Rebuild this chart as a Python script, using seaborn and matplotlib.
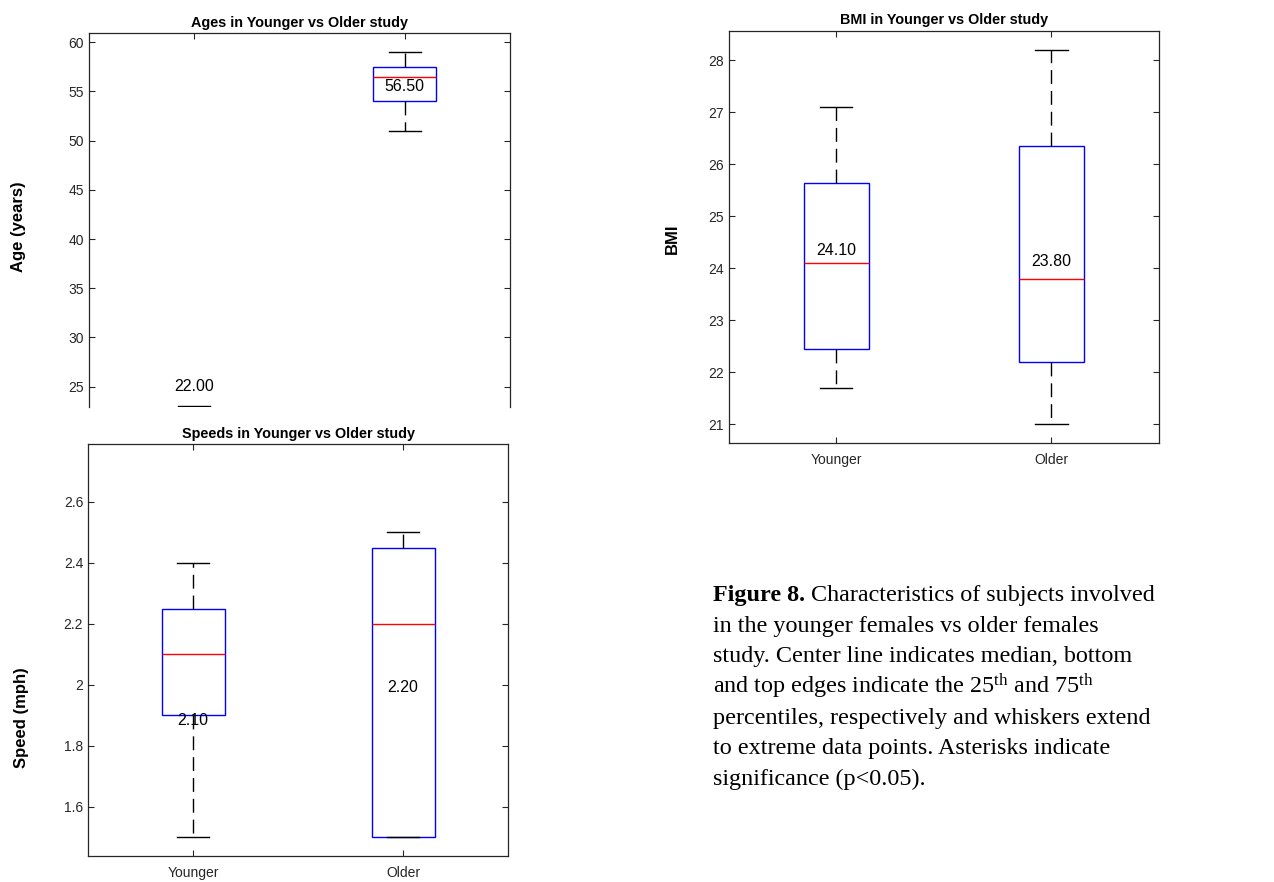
import numpy as np
import pandas as pd
import matplotlib
matplotlib.use("Agg")
import matplotlib.pyplot as plt
import seaborn as sns
from matplotlib import font_manager
from matplotlib.ticker import FuncFormatter

# ---- data: per-group values (min, 25th pct, median, 75th pct, max) ----
groups = ["Younger", "Older"]

age_younger = [20.0, 21.0, 22.0, 22.6, 23.0]
age_older = [51.0, 54.0, 56.5, 57.5, 59.0]

bmi_younger = [21.7, 22.45, 24.1, 25.65, 27.1]
bmi_older = [21.0, 22.2, 23.8, 26.35, 28.2]

speed_younger = [1.5, 1.9, 2.1, 2.25, 2.4]
speed_older = [1.5, 1.5, 2.2, 2.45, 2.5]

age_ticks = [25, 30, 35, 40, 45, 50, 55, 60]
bmi_ticks = [21, 22, 23, 24, 25, 26, 27, 28]
speed_ticks = [1.6, 1.8, 2.0, 2.2, 2.4, 2.6]

# vertical offsets of the median value labels from each median
age_label_shift = [3.0, -1.0]
bmi_label_shift = [0.25, 0.34]
speed_label_shift = [-0.218, -0.208]

caption_lines = [
    "in the younger females vs older females",
    "study. Center line indicates median, bottom",
    r"and top edges indicate the 25$^{\mathrm{th}}$ and 75$^{\mathrm{th}}$",
    "percentiles, respectively and whiskers extend",
    "to extreme data points. Asterisks indicate",
    "significance (p<0.05).",
]

# ---- fonts ----
names = {f.name for f in font_manager.fontManager.ttflist}
if "Liberation Sans Narrow" in names:
    narrow = "Liberation Sans Narrow"
    nscale = 1.0
else:
    narrow = "Liberation Sans"
    nscale = 0.85

plt.rcParams["font.family"] = ["Liberation Sans", "DejaVu Sans"]
plt.rcParams["mathtext.fontset"] = "custom"
plt.rcParams["mathtext.rm"] = "Liberation Serif"
plt.rcParams["mathtext.it"] = "Liberation Serif:italic"
plt.rcParams["mathtext.bf"] = "Liberation Serif:bold"

W, H = 1274, 882
fig = plt.figure(figsize=(W / 100, H / 100), dpi=100)
fig.patch.set_facecolor("white")


def px_axes(left, top, right, bottom):
    return fig.add_axes([left / W, 1 - bottom / H, (right - left) / W, (bottom - top) / H])


def draw_panel(ax, younger, older, title, ylabel, ylim, yticks, shifts,
               label_xy, title_pad, show_x=True):
    df = pd.DataFrame({
        "group": np.repeat(groups, [len(younger), len(older)]),
        "value": younger + older,
    })
    sns.boxplot(
        data=df, x="group", y="value", order=groups, ax=ax,
        width=0.3, whis=(0, 100), showfliers=False,
        boxprops=dict(facecolor="white", edgecolor="blue", linewidth=1.0),
        medianprops=dict(color="red", linewidth=1.0),
        whiskerprops=dict(color="black", linewidth=1.0, linestyle=(0, (10, 5))),
        capprops=dict(color="black", linewidth=1.0),
    )
    ax.set_xlim(-0.5, 1.5)
    ax.set_ylim(*ylim)
    ax.set_yticks(yticks)
    ax.yaxis.set_major_formatter(FuncFormatter(lambda v, p: f"{v:g}"))
    ax.set_xlabel("")
    ax.set_ylabel(ylabel, fontsize=12, fontweight="bold", color="black")
    ax.yaxis.set_label_coords(*label_xy)
    ax.yaxis.label.set_va("center")
    ax.set_title(title, fontsize=12.2 * nscale, fontweight="bold",
                 family=narrow, pad=title_pad)
    ax.tick_params(direction="in", length=4, width=0.8, top=True, right=True,
                   colors="#262626", labelsize=11.8 * nscale)
    for lab in ax.get_xticklabels() + ax.get_yticklabels():
        lab.set_family(narrow)
    ax.tick_params(axis="x", pad=7)
    for s in ax.spines.values():
        s.set_color("#262626")
        s.set_linewidth(0.9)
    if not show_x:
        ax.spines["bottom"].set_visible(False)
        ax.tick_params(axis="x", bottom=False, labelbottom=False)
    for i, vals in enumerate([younger, older]):
        med = float(np.median(vals))
        ax.text(i, med + shifts[i], f"{med:.2f}", ha="center", va="center",
                fontsize=13.6 * nscale, family=narrow, color="black", zorder=5)


ax_age = px_axes(89, 33.3, 510, 407)
draw_panel(ax_age, age_younger, age_older, "Ages in Younger vs Older study",
           "Age (years)", (22.94, 60.9), age_ticks, age_label_shift,
           (-0.1686, 0.482), 4.5, show_x=False)

ax_speed = px_axes(88, 444, 508, 856)
draw_panel(ax_speed, speed_younger, speed_older, "Speeds in Younger vs Older study",
           "Speed (mph)", (1.438, 2.79), speed_ticks, speed_label_shift,
           (-0.1595, 0.335), 4.5)

ax_bmi = px_axes(728.7, 31.3, 1159, 443)
draw_panel(ax_bmi, bmi_younger, bmi_older, "BMI in Younger vs Older study",
           "BMI", (20.64, 28.56), bmi_ticks, bmi_label_shift,
           (-0.1318, 0.495), 5)

# ---- caption ----
cap_x = 713
baselines = [601, 632, 662, 693, 724, 754, 785]
cap_size = 17.4
head = fig.text(cap_x / W, 1 - baselines[0] / H, "Figure 8.", family="Liberation Serif",
                fontweight="bold", fontsize=cap_size, va="baseline", ha="left")
renderer = fig.canvas.get_renderer()
bb = head.get_window_extent(renderer=renderer)
fig.text(bb.x1 / W, 1 - baselines[0] / H, " Characteristics of subjects involved",
         family="Liberation Serif", fontsize=cap_size, va="baseline", ha="left")
for line, yb in zip(caption_lines, baselines[1:]):
    fig.text(cap_x / W, 1 - yb / H, line, family="Liberation Serif",
             fontsize=cap_size, va="baseline", ha="left")

fig.savefig("out.png", dpi=100, facecolor="white")
